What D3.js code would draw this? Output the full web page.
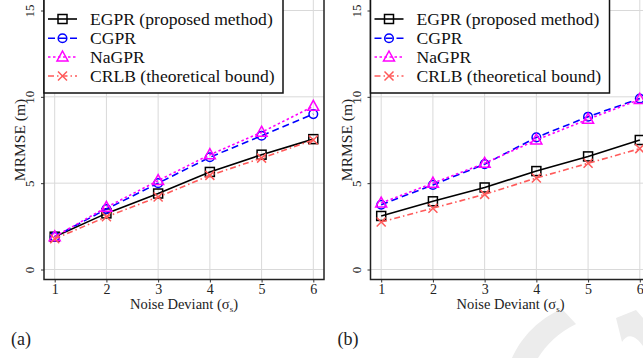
<!DOCTYPE html>
<html>
<head>
<meta charset="utf-8">
<script src="https://cdn.jsdelivr.net/npm/d3@7"></script>
<style>
  body { margin: 0; background: #fff; }
  svg text { font-family: "Liberation Serif", "Tinos", "Times New Roman", "DejaVu Serif", serif; }
</style>
</head>
<body>
<div class="chart"></div>
<script>
var svgWidth = 643;
var svgHeight = 358;

// x values (noise deviant) shared by both panels
var noiseLevels = [1, 2, 3, 4, 5, 6];
var yTicks = [0, 5, 10, 15];

var seriesNames = ["EGPR (proposed method)", "CGPR", "NaGPR", "CRLB (theoretical bound)"];

// panel (a)
var egprA  = [1.9, 3.25, 4.4, 5.65, 6.65, 7.55];
var cgprA  = [1.9, 3.5, 5.0, 6.5, 7.75, 9.0];
var nagprA = [1.9, 3.6, 5.15, 6.65, 7.95, 9.45];
var crlbA  = [1.78, 3.05, 4.2, 5.45, 6.45, 7.5];

// panel (b)
var egprB  = [3.1, 3.95, 4.75, 5.7, 6.55, 7.5];
var cgprB  = [3.75, 4.9, 6.1, 7.65, 8.85, 9.9];
var nagprB = [3.85, 5.0, 6.15, 7.5, 8.7, 9.85];
var crlbB  = [2.75, 3.55, 4.35, 5.3, 6.15, 7.0];

var styles = [
    { color: "#000000", dash: null,          marker: "square" },
    { color: "#0000ff", dash: "7,4",         marker: "circle" },
    { color: "#ff00ff", dash: "2.5,2.5",     marker: "triangle" },
    { color: "#ff5a5a", dash: "6,3,1.5,3",   marker: "cross" }
];

var serif = "Liberation Serif, Tinos, Times New Roman, DejaVu Serif, serif";

var svg = d3.select(".chart")
    .append("svg")
    .attr("width", svgWidth)
    .attr("height", svgHeight)
    .attr("font-family", serif);

// faint watermark strokes in the corner
svg.append("path")
    .attr("d", "M512,358 C522,336 540,318 562,309 L576,324 C558,333 546,345 538,358 Z")
    .attr("fill", "#ececec");
svg.append("path")
    .attr("d", "M616,318 L636,310 L643,318 L643,346 C636,336 628,332 622,342 Z")
    .attr("fill", "#ececec");

function drawMarker(g, type, cx, cy, color) {
    if (type === "square") {
        g.append("rect").attr("x", cx - 4.5).attr("y", cy - 4.5)
            .attr("width", 9).attr("height", 9)
            .attr("fill", "none").attr("stroke", color).attr("stroke-width", 1.5);
    } else if (type === "circle") {
        g.append("circle").attr("cx", cx).attr("cy", cy).attr("r", 4.3)
            .attr("fill", "none").attr("stroke", color).attr("stroke-width", 1.5);
    } else if (type === "triangle") {
        g.append("path")
            .attr("d", "M" + cx + "," + (cy - 6) + "L" + (cx + 5.5) + "," + (cy + 4) + "L" + (cx - 5.5) + "," + (cy + 4) + "Z")
            .attr("fill", "none").attr("stroke", color).attr("stroke-width", 1.5);
    } else {
        g.append("path")
            .attr("d", "M" + (cx - 4.5) + "," + (cy - 4.5) + "L" + (cx + 4.5) + "," + (cy + 4.5) +
                       "M" + (cx - 4.5) + "," + (cy + 4.5) + "L" + (cx + 4.5) + "," + (cy - 4.5))
            .attr("fill", "none").attr("stroke", color).attr("stroke-width", 1.5);
    }
}

function drawPanel(offsetX, seriesList, label) {
    var g = svg.append("g").attr("transform", "translate(" + offsetX + ",0)");

    var left = 44, right = 324, top = -3, bottom = 279.5;

    var x = d3.scaleLinear().domain([1, 6]).range([54.7, 313.3]);
    var y = d3.scaleLinear().domain([0, 15]).range([269.5, 10.5]);

    g.append("rect")
        .attr("x", left).attr("y", top)
        .attr("width", right - left).attr("height", bottom - top)
        .attr("fill", "#fff");

    // grid
    g.selectAll(".vgrid").data(noiseLevels).enter().append("line")
        .attr("x1", function(d) { return x(d); }).attr("x2", function(d) { return x(d); })
        .attr("y1", top).attr("y2", bottom)
        .attr("stroke", "#d9d9d9").attr("stroke-width", 1);
    g.selectAll(".hgrid").data(yTicks).enter().append("line")
        .attr("x1", left).attr("x2", right)
        .attr("y1", function(d) { return y(d); }).attr("y2", function(d) { return y(d); })
        .attr("stroke", "#d9d9d9").attr("stroke-width", 1);

    // axes
    var bottomAxis = d3.axisBottom(x).tickValues(noiseLevels).tickSize(3).tickPadding(2).tickFormat(d3.format("d"));
    var leftAxis = d3.axisLeft(y).tickValues(yTicks).tickSize(3).tickFormat(d3.format("d"));

    var xa = g.append("g").attr("transform", "translate(0," + bottom + ")").call(bottomAxis)
        .attr("font-family", serif);
    xa.select(".domain").remove();
    xa.selectAll("text").attr("font-size", 14).attr("fill", "#222");
    xa.selectAll("line").attr("stroke", "#333");

    var ya = g.append("g").attr("transform", "translate(" + left + ",0)").call(leftAxis)
        .attr("font-family", serif);
    ya.select(".domain").remove();
    ya.selectAll("line").attr("stroke", "#333");
    ya.selectAll("text")
        .attr("transform", "rotate(-90)")
        .attr("x", 0).attr("y", -10).attr("dy", 0)
        .attr("text-anchor", "middle")
        .attr("font-size", 13).attr("fill", "#222");

    // frame
    g.append("rect")
        .attr("x", left).attr("y", top)
        .attr("width", right - left).attr("height", bottom - top)
        .attr("fill", "none").attr("stroke", "#222").attr("stroke-width", 1.5);

    // series lines and markers
    var line = d3.line()
        .x(function(d, i) { return x(noiseLevels[i]); })
        .y(function(d) { return y(d); });

    seriesList.forEach(function(vals, k) {
        var st = styles[k];
        g.append("path")
            .attr("d", line(vals))
            .attr("fill", "none")
            .attr("stroke", st.color)
            .attr("stroke-width", 1.6)
            .attr("stroke-dasharray", st.dash);
        vals.forEach(function(v, i) {
            drawMarker(g, st.marker, x(noiseLevels[i]), y(v), st.color);
        });
    });

    // axis titles
    g.append("text")
        .attr("transform", "translate(25," + 140 + ") rotate(-90)")
        .attr("text-anchor", "middle")
        .attr("font-size", 15.5).attr("fill", "#222")
        .text("MRMSE (m)");

    var xt = g.append("text")
        .attr("x", 184).attr("y", 309)
        .attr("text-anchor", "middle")
        .attr("font-size", 14.5).attr("fill", "#222");
    xt.append("tspan").text("Noise Deviant (σ");
    xt.append("tspan").attr("font-size", 9).attr("dy", 3).text("s");
    xt.append("tspan").attr("dy", -3).text(")");

    // legend
    var lg = g.append("g");
    lg.append("rect")
        .attr("x", left).attr("y", -3)
        .attr("width", 239).attr("height", 96)
        .attr("fill", "#fff").attr("stroke", "#111").attr("stroke-width", 1.5);
    var rowY = [19, 38.3, 57, 76];
    seriesNames.forEach(function(name, k) {
        var st = styles[k];
        lg.append("line")
            .attr("x1", 48).attr("x2", 77)
            .attr("y1", rowY[k]).attr("y2", rowY[k])
            .attr("stroke", st.color).attr("stroke-width", 1.6)
            .attr("stroke-dasharray", st.dash);
        drawMarker(lg, st.marker, 62.5, rowY[k], st.color);
        lg.append("text")
            .attr("x", 90).attr("y", rowY[k]).attr("dy", "0.35em")
            .attr("font-size", 17.6).attr("fill", "#111")
            .text(name);
    });

    // panel label
    svg.append("text")
        .attr("x", offsetX + 11).attr("y", 345)
        .attr("font-size", 18).attr("fill", "#222")
        .text(label);
}

drawPanel(0, [egprA, cgprA, nagprA, crlbA], "(a)");
drawPanel(326.5, [egprB, cgprB, nagprB, crlbB], "(b)");
</script>
</body>
</html>
